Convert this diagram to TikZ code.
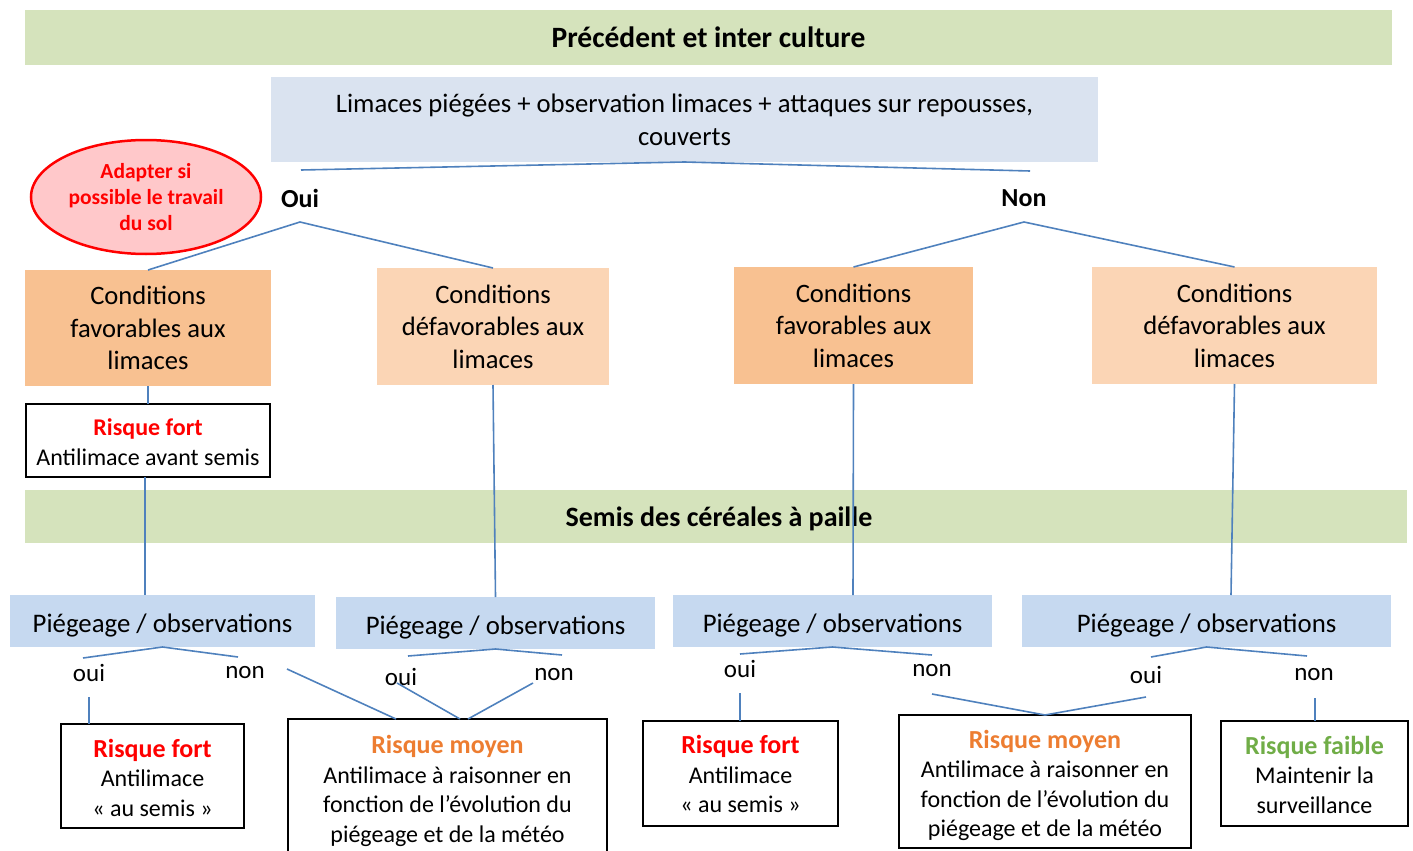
\documentclass[tikz,border=0pt]{standalone}
\usepackage{fontspec}
\setmainfont{Carlito}
\usetikzlibrary{shapes.geometric}
\definecolor{bandgreen}{HTML}{D5E3BC}
\definecolor{topblue}{HTML}{DAE3F0}
\definecolor{pblue}{HTML}{C6D9F0}
\definecolor{orangeD}{HTML}{F8C191}
\definecolor{orangeL}{HTML}{FBD5B5}
\definecolor{pinkfill}{HTML}{FFC8CA}
\definecolor{lineblue}{HTML}{4F81BD}
\definecolor{riskred}{HTML}{FF0000}
\definecolor{riskorange}{HTML}{ED7D31}
\definecolor{riskgreen}{HTML}{70AD47}
\newcommand\fz[2]{\fontsize{#1}{#2}\selectfont}
\begin{document}
\begin{tikzpicture}[x=1pt,y=-1pt,
  every node/.style={inner sep=0pt, outer sep=0pt, align=center, text=black},
  band/.style={rectangle, fill=bandgreen, font=\fz{28}{32}\bfseries},
  topbox/.style={rectangle, fill=topblue, font=\fz{26.7}{33}},
  cond/.style={rectangle, font=\fz{26.6}{32.5}},
  res/.style={rectangle, draw=black, line width=2pt, fill=white},
  restext/.style={font=\fz{24}{29.5}},
  rtitle/.style={font=\fz{26}{29.5}\bfseries},
  pbox/.style={rectangle, fill=pblue, font=\fz{26.8}{32}, text height=23pt, text depth=0pt},
  lab/.style={font=\fz{25}{30}},
  yn/.style={font=\fz{26}{30}\bfseries},
  ln/.style={draw=lineblue, line width=1.6pt},
]
\useasboundingbox (0,0) rectangle (1413,851);
\clip (0,0) rectangle (1413,851);

% top band and question
\node[band, font=\fz{29.5}{32}\bfseries, minimum width=1367, minimum height=55] (b1) at (708.5,37.5) {Précédent et inter culture};
\node[topbox, minimum width=827, minimum height=85] (top) at (684.5,119.5) {Limaces piégées + observation limaces + attaques sur repousses,\\couverts};
\coordinate (tL) at (301,170);
\coordinate (tR) at (1030,171);
\draw[ln] (tL) -- (top.south) -- (tR);

\node[yn] (oui) at (300,198) {Oui};
\node[yn] (non) at (1024,198) {Non};
\coordinate (ouiV) at (300,222);
\coordinate (nonV) at (1024,222);

\node[ellipse, draw=riskred, line width=2.5pt, fill=pinkfill, minimum width=230, minimum height=114, font=\fz{21.5}{26}\bfseries, text=riskred] (adapt) at (146,197) {Adapter si\\possible le travail\\du sol};

% conditions
\node[cond, fill=orangeD, minimum width=246, minimum height=116] (c1) at (148,328) {Conditions\\favorables aux\\limaces};
\node[cond, fill=orangeL, minimum width=232, minimum height=117] (c2) at (493,326.5) {Conditions\\défavorables aux\\limaces};
\node[cond, fill=orangeD, minimum width=239, minimum height=117] (c3) at (853.5,325.5) {Conditions\\favorables aux\\limaces};
\node[cond, fill=orangeL, minimum width=285, minimum height=117] (c4) at (1234.5,325.5) {Conditions\\défavorables aux\\limaces};
\draw[ln] (c1.north) -- (ouiV) -- (c2.north);
\draw[ln] (c3.north) -- (nonV) -- (c4.north);

\node[res, minimum width=244, minimum height=73] (rf0) at (148,440.5) {};
\node[font=\fz{24}{30}] (rf0t) at (148,442.5) {{\color{riskred}\bfseries Risque fort}\\Antilimace avant semis};
\draw[ln] (c1.south) -- (rf0.north);

% second band
\node[band, minimum width=1382, minimum height=53, text height=20pt, text depth=0pt] (b2) at (716,516.5) {};
\node[band, fill=none, text height=20pt, text depth=0pt] (b2t) at (719,516.5) {Semis des céréales à paille};

% piegeage boxes
\node[pbox, minimum width=305, minimum height=52] (p1) at (162.5,621) {Piégeage / observations};
\node[pbox, minimum width=319, minimum height=52] (p2) at (495.5,623) {Piégeage / observations};
\node[pbox, minimum width=319, minimum height=52] (p3) at (832.5,621) {Piégeage / observations};
\node[pbox, minimum width=369, minimum height=52] (p4) at (1206.5,621) {Piégeage / observations};

\draw[ln] ([xshift=-3]rf0.south) -- ([xshift=-17.5]p1.north);
\draw[ln] (c2.south) -- (p2.north);
\draw[ln] (c3.south) -- ([xshift=20.5]p3.north);
\draw[ln] (c4.south) -- ([xshift=24.5]p4.north);

% result boxes
\node[res, minimum width=183, minimum height=104] (rfA) at (152.5,776) {};
\node[restext] (rfAt) at (152.5,777.5) {{\fz{26}{29.5}\color{riskred}\bfseries Risque fort}\\Antilimace\\« au semis »};
\node[res, minimum width=319, minimum height=141] (rmA) at (447.5,789.5) {};
\node[restext] (rmAt) at (447.5,791) {{\fz{26}{29.5}\color{riskorange}\bfseries Risque moyen}\\Antilimace à raisonner en\\fonction de l’évolution du\\piégeage et de la météo};
\node[res, minimum width=195, minimum height=105] (rfB) at (740.5,773.5) {};
\node[restext] (rfBt) at (740.5,774) {{\fz{26}{29.5}\color{riskred}\bfseries Risque fort}\\Antilimace\\« au semis »};
\node[res, minimum width=292, minimum height=133] (rmB) at (1045,781.5) {};
\node[restext] (rmBt) at (1045,785.5) {{\fz{26}{29.5}\color{riskorange}\bfseries Risque moyen}\\Antilimace à raisonner en\\fonction de l’évolution du\\piégeage et de la météo};
\node[res, minimum width=187, minimum height=105] (rfa) at (1314.5,773.5) {};
\node[restext] (rfat) at (1314.5,774.5) {{\fz{26}{29.5}\color{riskgreen}\bfseries Risque faible}\\Maintenir la\\surveillance};

% branch 1
\coordinate (p1L) at (83,658);
\coordinate (p1R) at (238,657);
\draw[ln] (p1L) -- (p1.south) -- (p1R);
\node[lab] (o1) at (89,673) {oui};
\node[lab] (n1) at (245,673) {non};
\coordinate (o1d) at (89,697);
\draw[ln] (o1d) -- (o1d |- rfA.north);
\coordinate (n1d) at (287,669);
\draw[ln] (n1d) -- ([xshift=-51.5]rmA.north);

% branch 2
\coordinate (p2L) at (408,656);
\coordinate (p2R) at (562,655);
\draw[ln] (p2L) -- (p2.south) -- (p2R);
\node[lab] (o2) at (401,677) {oui};
\node[lab] (n2) at (554,675) {non};
\coordinate (o2d) at (397,683);
\coordinate (n2d) at (533,683);
\draw[ln] (o2d) -- ([xshift=12.5]rmA.north);
\draw[ln] (n2d) -- ([xshift=20.5]rmA.north);

% branch 3
\coordinate (p3L) at (740,654);
\coordinate (p3R) at (932,655);
\draw[ln] (p3L) -- (p3.south) -- (p3R);
\node[lab] (o3) at (740,669) {oui};
\node[lab] (n3) at (932,671) {non};
\coordinate (o3d) at (740,693);
\draw[ln] (o3d) -- (o3d |- rfB.north);
\coordinate (n3d) at (932,694);

% branch 4
\coordinate (p4L) at (1151,657);
\coordinate (p4R) at (1307,656);
\draw[ln] (p4L) -- (p4.south) -- (p4R);
\node[lab] (o4) at (1146,675) {oui};
\node[lab] (n4) at (1314,675) {non};
\coordinate (o4d) at (1146,697);
\draw[ln] (n3d) -- (rmB.north) -- (o4d);
\coordinate (n4d) at (1315,698);
\draw[ln] (n4d) -- (n4d |- rfa.north);
\end{tikzpicture}
\end{document}
